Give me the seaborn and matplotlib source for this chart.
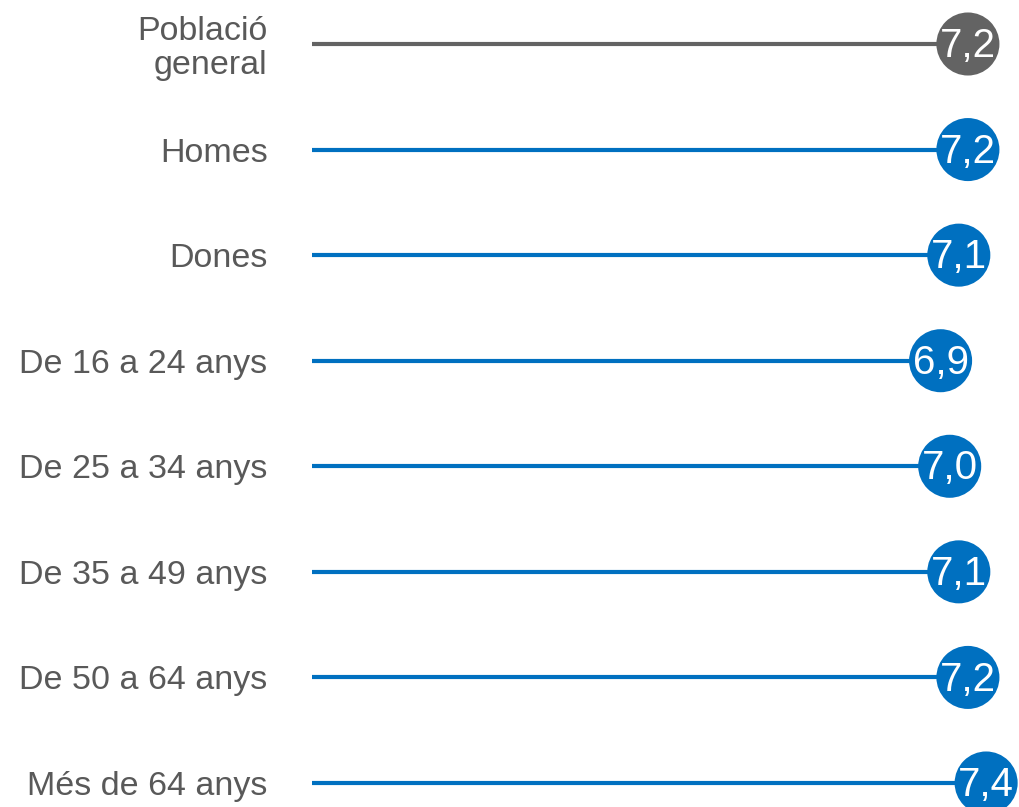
import numpy as np
import pandas as pd
import matplotlib
matplotlib.use("Agg")
import matplotlib.pyplot as plt
import seaborn as sns

# ==========================================
# Data
# ==========================================

categories = ["Població\ngeneral", "Homes", "Dones", "De 16 a 24 anys",
              "De 25 a 34 anys", "De 35 a 49 anys", "De 50 a 64 anys",
              "Més de 64 anys"]
values = [7.2, 7.2, 7.1, 6.9, 7.0, 7.1, 7.2, 7.4]
groups = ["total", "grup", "grup", "grup", "grup", "grup", "grup", "grup"]

palette = {"total": "#636363", "grup": "#0070C0"}

df = pd.DataFrame({"cat": categories, "val": values, "grp": groups})
df["pos"] = np.arange(len(df))

# ==========================================
# Figure
# ==========================================

sns.set_style("white")
plt.rcParams["font.family"] = ["Liberation Sans", "DejaVu Sans"]

fig = plt.figure(figsize=(10.2, 8.07), dpi=100)
ax = fig.add_axes([312 / 1020, 0, 708 / 1020, 1])

# stems
for _, row in df.iterrows():
    ax.hlines(row["pos"], 0, row["val"], color=palette[row["grp"]],
              linewidth=3, zorder=1)

# heads
sns.scatterplot(data=df, x="val", y="pos", hue="grp", palette=palette,
                s=2060, linewidth=0, legend=False, ax=ax, zorder=2)

for _, row in df.iterrows():
    ax.text(row["val"], row["pos"] + 0.02, f"{row['val']:.1f}".replace(".", ","),
            color="white", fontsize=29, ha="center", va="center", zorder=3)

ax.set_xlim(0, 708 / 91.1)
ax.set_ylim((807 - 44) / 105.57, -44 / 105.57)

ax.set_yticks(df["pos"])
ax.set_yticklabels(df["cat"], fontsize=24.5, color="#595959", linespacing=1.1)
ax.tick_params(axis="y", length=0, pad=32)
ax.set_xticks([])
ax.set_xlabel("")
ax.set_ylabel("")
sns.despine(ax=ax, left=True, bottom=True)

fig.savefig("out.png", dpi=100)
